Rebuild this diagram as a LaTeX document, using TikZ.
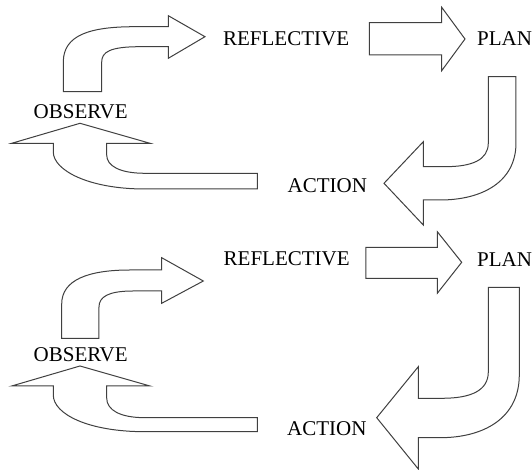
\documentclass[tikz,border=0pt]{standalone}
\usepackage{fontspec}
\setmainfont{Liberation Serif}
\usepackage{tikz}

\begin{document}
\begin{tikzpicture}[x=0.5pt, y=-0.5pt,
	blockarrow/.style={line width=0.5pt, draw=black!75, fill=white, line join=miter},
	steplabel/.style={anchor=west, inner sep=0pt, font=\fontsize{10.5}{12}\selectfont}]
			%%%%% START %%%%%
			
			\useasboundingbox (0, 0) rectangle (532, 470);
			
			%%%%% upper cycle %%%%%
			
			\node[steplabel] (reflectA) at (222.7, 38.8) {REFLECTIVE};
			\node[steplabel] (planA) at (476.7, 39) {PLAN};
			\node[steplabel] (actionA) at (287.3, 185.8) {ACTION};
			\node[steplabel] (observeA) at (33.3, 111.7) {OBSERVE};
			
			\draw[blockarrow] (63.3, 91.7) -- (63.3, 62) .. controls (63.3, 35) and (90, 26.7) .. (135, 26.7)
				-- (168.3, 26.7) -- (168.3, 15.7) -- (205, 36.7) -- (168.3, 58.3) -- (168.3, 46.7)
				-- (140, 46.7) .. controls (110, 46.7) and (101.7, 52) .. (101.7, 62) -- (101.7, 91.7) -- cycle;
			
			\draw[blockarrow] (369.3, 22.7) -- (441.7, 22.7) -- (441.7, 7.3) -- (465, 39)
				-- (441.7, 70.7) -- (441.7, 55) -- (369.3, 55) -- cycle;
			
			\draw[blockarrow] (488.3, 76.7) -- (516, 76.7) -- (516, 143) .. controls (516, 182) and (482, 200) .. (440, 200)
				-- (423.3, 200) -- (423.3, 225) -- (384, 183.3) -- (423.3, 141.7) -- (423.3, 166.7)
				-- (445, 166.7) .. controls (472, 166.7) and (488.3, 160) .. (488.3, 143) -- cycle;
			
			\draw[blockarrow] (257.3, 173.3) -- (257.3, 189) -- (145, 189) .. controls (88, 189) and (53.3, 170) .. (53.3, 152)
				-- (53.3, 143.3) -- (11.7, 143.3) -- (80, 123.3) -- (150, 143.3) -- (106.7, 143.3)
				-- (106.7, 155) .. controls (106.7, 166) and (120, 173.3) .. (145, 173.3) -- cycle;
			
			%%%%% lower cycle %%%%%
			
			\node[steplabel] (reflectB) at (223.3, 258.8) {REFLECTIVE};
			\node[steplabel] (planB) at (476.7, 259.3) {PLAN};
			\node[steplabel] (actionB) at (286.7, 429) {ACTION};
			\node[steplabel] (observeB) at (33.3, 355) {OBSERVE};
			
			\draw[blockarrow] (61.7, 338.3) -- (61.7, 304) .. controls (61.7, 280) and (88, 270) .. (130, 270)
				-- (161.7, 270) -- (161.7, 257.7) -- (203.3, 281) -- (161.7, 303.3) -- (161.7, 291)
				-- (133, 291) .. controls (108, 291) and (99, 297) .. (99, 307) -- (99, 338.3) -- cycle;
			
			\draw[blockarrow] (366, 247.3) -- (437.3, 247.3) -- (437.3, 231.7) -- (461.7, 262.3)
				-- (437.3, 293.3) -- (437.3, 278.3) -- (366, 278.3) -- cycle;
			
			\draw[blockarrow] (488.3, 287.3) -- (519.3, 287.3) -- (519.3, 375) .. controls (519.3, 418) and (484, 437.7) .. (440, 437.7)
				-- (418.3, 437.7) -- (418.3, 469) -- (376.7, 417.7) -- (418.3, 366.7) -- (418.3, 398.3)
				-- (442, 398.3) .. controls (472, 398.3) and (488.3, 390) .. (488.3, 372) -- cycle;
			
			\draw[blockarrow] (257.3, 417.7) -- (257.3, 431.7) -- (145, 431.7) .. controls (88, 431.7) and (53.3, 414) .. (53.3, 395)
				-- (53.3, 386) -- (11.7, 386) -- (80, 366) -- (150, 386) -- (106.7, 386)
				-- (106.7, 398) .. controls (106.7, 410) and (120, 417.7) .. (145, 417.7) -- cycle;
			
			%%%%% END %%%%%
		\end{tikzpicture}
\end{document}
